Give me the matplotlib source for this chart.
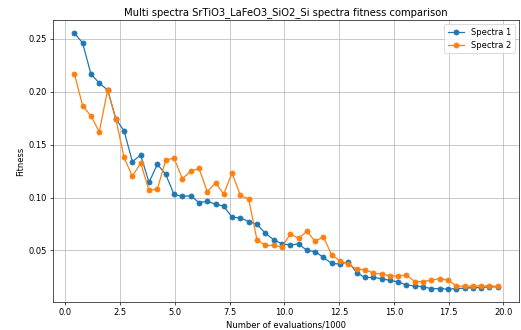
import matplotlib

matplotlib.use("Agg")
import matplotlib.pyplot as plt  # noqa: E402

# ---------- Data ----------
EVALS_K = [
    0.41, 0.79, 1.17, 1.55, 1.93, 2.31, 2.68, 3.06, 3.44, 3.82,
    4.20, 4.58, 4.96, 5.34, 5.72, 6.10, 6.48, 6.86, 7.23, 7.61,
    7.99, 8.37, 8.75, 9.13, 9.51, 9.89, 10.27, 10.65, 11.03, 11.40,
    11.78, 12.16, 12.54, 12.92, 13.30, 13.68, 14.06, 14.44, 14.82, 15.19,
    15.57, 15.95, 16.33, 16.71, 17.09, 17.47, 17.85, 18.23, 18.60, 18.98,
    19.36, 19.74,
]
SPECTRA_1 = [
    0.2554, 0.2459, 0.2165, 0.2080, 0.2016, 0.1740, 0.1630, 0.1340, 0.1400, 0.1143,
    0.1314, 0.1220, 0.1030, 0.1010, 0.1017, 0.0953, 0.0963, 0.0938, 0.0918, 0.0814,
    0.0808, 0.0773, 0.0748, 0.0662, 0.0602, 0.0562, 0.0552, 0.0562, 0.0500, 0.0490,
    0.0435, 0.0378, 0.0372, 0.0394, 0.0290, 0.0245, 0.0245, 0.0235, 0.0217, 0.0204,
    0.0173, 0.0167, 0.0157, 0.0140, 0.0140, 0.0135, 0.0140, 0.0144, 0.0150, 0.0150,
    0.0157, 0.0157,
]
SPECTRA_2 = [
    0.2171, 0.1867, 0.1770, 0.1620, 0.2016, 0.1738, 0.1378, 0.1200, 0.1326, 0.1067,
    0.1080, 0.1350, 0.1374, 0.1178, 0.1248, 0.1276, 0.1055, 0.1140, 0.1032, 0.1232,
    0.1020, 0.0985, 0.0600, 0.0548, 0.0548, 0.0533, 0.0656, 0.0615, 0.0681, 0.0586,
    0.0631, 0.0457, 0.0403, 0.0372, 0.0322, 0.0320, 0.0286, 0.0277, 0.0260, 0.0258,
    0.0270, 0.0207, 0.0207, 0.0220, 0.0235, 0.0220, 0.0167, 0.0160, 0.0167, 0.0163,
    0.0167, 0.0160,
]

TITLE = "Multi spectra SrTiO3_LaFeO3_SiO2_Si spectra fitness comparison"

fig, ax = plt.subplots(figsize=(521 / 60, 330 / 60), dpi=60)
ax.plot(EVALS_K, SPECTRA_1, marker="o", label="Spectra 1")
ax.plot(EVALS_K, SPECTRA_2, marker="o", label="Spectra 2")

ax.set_title(TITLE)
ax.set_xlabel("Number of evaluations/1000")
ax.set_ylabel("Fitness")
ax.grid(True)
ax.legend(loc="upper right")

fig.subplots_adjust(left=0.102, right=0.996, top=0.939, bottom=0.085)
fig.savefig("out.png", dpi=60)
